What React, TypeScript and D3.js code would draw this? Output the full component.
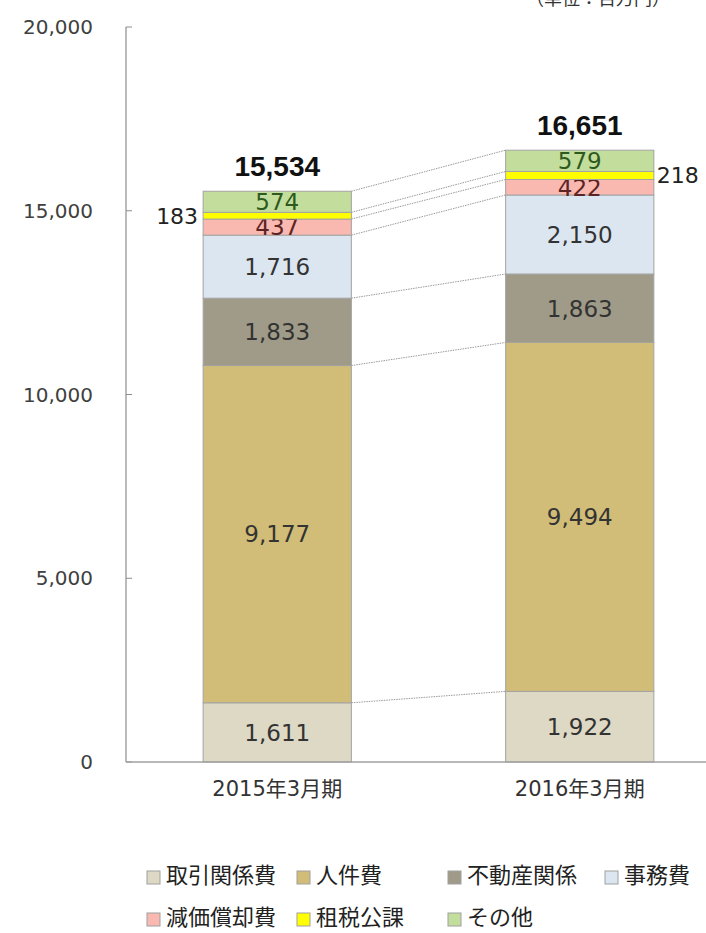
import React from "react";
import * as d3 from "d3";

// data
const categories = ["2015年3月期", "2016年3月期"];
const seriesNames = ["取引関係費", "人件費", "不動産関係", "事務費", "減価償却費", "租税公課", "その他"];
const tradeCost = [1611, 1922];
const personnelCost = [9177, 9494];
const realEstateCost = [1833, 1863];
const officeCost = [1716, 2150];
const depreciation = [437, 422];
const taxes = [183, 218];
const otherCost = [574, 579];
const totals = [15534, 16651];
const yTicks = [0, 5000, 10000, 15000, 20000];
const unitLabel = "（単位：百万円）";

const fills = ["#ddd9c4", "#d1bd77", "#9f9b88", "#dce6f1", "#f9b8b0", "#ffff00", "#c3de9c"];
const labelColors = ["#333", "#333", "#333", "#333", "#5c2424", "#222", "#2e5a1e"];

const numFont = "'DejaVu Sans', Verdana, sans-serif";
const jpFont = "'Noto Sans CJK JP', sans-serif";

export default function App() {
  const width = 706;
  const height = 933;

  const values = [tradeCost, personnelCost, realEstateCost, officeCost, depreciation, taxes, otherCost];
  const rows = categories.map((c, i) => {
    const row: any = { category: c };
    seriesNames.forEach((s, k) => (row[s] = values[k][i]));
    return row;
  });
  const stacked = d3.stack().keys(seriesNames)(rows);

  // scales
  const x = d3.scaleBand().domain(categories).range([126, 731]).paddingInner(0.51).paddingOuter(0.255);
  const y = d3.scaleLinear().domain([0, 20000]).range([762, 27]);
  const fmt = d3.format(",");
  const bw = x.bandwidth();

  // legend layout
  const legendCols = [147, 297, 448, 605];
  const legendRows = [883, 925];

  return (
    <svg width={width} height={height} style={{ position: "absolute", left: 0, top: 0, background: "#fff" }}>
      {/* unit label, cut off at the top */}
      <text x={670} y={5} textAnchor="end" fontFamily={jpFont} fontSize={18} fill="#333">
        {unitLabel}
      </text>

      {/* y axis */}
      <line x1={126} x2={126} y1={y(20000)} y2={y(0)} stroke="#8c8c8c" strokeWidth={1.2} />
      {yTicks.map(t => (
        <g key={t}>
          <line x1={126} x2={132} y1={y(t)} y2={y(t)} stroke="#8c8c8c" />
          <text x={93} y={y(t)} dy="0.35em" textAnchor="end" fontFamily={numFont} fontSize={20} fill="#404040">
            {fmt(t)}
          </text>
        </g>
      ))}

      {/* connectors */}
      {stacked.map(layer => (
        <line
          key={"c" + layer.key}
          x1={(x(categories[0]) as number) + bw}
          x2={x(categories[1]) as number}
          y1={y(layer[0][1])}
          y2={y(layer[1][1])}
          stroke="#9a9a9a"
          strokeWidth={1}
          strokeDasharray="1.5 1"
        />
      ))}

      {/* bars */}
      {stacked.map((layer, k) => (
        <g key={layer.key}>
          {layer.map((d, i) => {
            const x0 = x(categories[i]) as number;
            const yTop = y(d[1]);
            const yBot = y(d[0]);
            const isTax = layer.key === "租税公課";
            const cx = isTax ? (i === 0 ? x0 - 5 : x0 + bw + 3) : x0 + bw / 2;
            const anchor = isTax ? (i === 0 ? "end" : "start") : "middle";
            return (
              <g key={i}>
                <rect x={x0} y={yTop} width={bw} height={yBot - yTop} fill={fills[k]} stroke="#a3a3a3" strokeWidth={1} />
                <text
                  x={cx}
                  y={(yTop + yBot) / 2}
                  dy="0.36em"
                  textAnchor={anchor}
                  fontFamily={numFont}
                  fontSize={isTax ? 22 : 23}
                  fill={labelColors[k]}
                >
                  {fmt(values[k][i])}
                </text>
              </g>
            );
          })}
        </g>
      ))}

      {/* totals */}
      {categories.map((c, i) => (
        <text
          key={"t" + c}
          x={(x(c) as number) + bw / 2}
          y={y(totals[i]) - 15}
          textAnchor="middle"
          fontFamily="'Liberation Sans', Arial, sans-serif"
          fontWeight="bold"
          fontSize={28}
          fill="#111"
        >
          {fmt(totals[i])}
        </text>
      ))}

      {/* baseline */}
      <line x1={126} x2={width} y1={y(0)} y2={y(0)} stroke="#a0a0a0" strokeWidth={1.5} />

      {/* category labels */}
      {categories.map(c => (
        <text
          key={c}
          x={(x(c) as number) + bw / 2}
          y={796}
          textAnchor="middle"
          fontFamily={`${numFont.split(",")[0]}, ${jpFont}`}
          fontSize={21}
          fill="#333"
        >
          {c}
        </text>
      ))}

      {/* legend */}
      {seriesNames.map((s, k) => {
        const lx = legendCols[k % 4];
        const ly = legendRows[Math.floor(k / 4)];
        return (
          <g key={"l" + s}>
            <rect x={lx} y={ly - 12} width={13} height={13} fill={fills[k]} stroke="#a0a0a0" />
            <text x={lx + 19} y={ly} fontFamily={jpFont} fontSize={22} fill="#222">
              {s}
            </text>
          </g>
        );
      })}
    </svg>
  );
}
